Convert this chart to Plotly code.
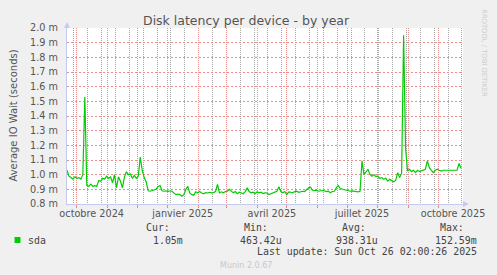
import pandas as pd
import plotly.graph_objects as go

# ---- data (ms), one value every 2 days, starting 2024-09-21 ----
start_date = "2024-09-21 02:00"
end_date = "2025-10-26 02:00"
sda_ms = [
    1.03, 0.99, 0.98, 0.97, 0.985, 0.975, 0.98, 0.97, 1.0, 1.53,
    0.925, 0.92, 0.935, 0.92, 0.925, 0.92, 0.96, 0.955, 0.975, 0.97,
    0.99, 0.975, 0.985, 0.945, 1.0, 0.91, 0.985, 0.955, 0.91, 0.985,
    1.02, 1.0, 1.005, 0.975, 0.995, 0.975, 0.99, 1.12, 1.03, 0.98,
    0.95, 0.89, 0.887, 0.89, 0.895, 0.9, 0.92, 0.926, 0.89, 0.887,
    0.89, 0.885, 0.89, 0.887, 0.876, 0.864, 0.868, 0.864, 0.853, 0.864,
    0.9, 0.92, 0.876, 0.864, 0.86, 0.883, 0.876, 0.885, 0.875, 0.87,
    0.878, 0.875, 0.88, 0.876, 0.878, 0.885, 0.933, 0.876, 0.883, 0.876,
    0.885, 0.887, 0.9, 0.89, 0.876, 0.885, 0.87, 0.88, 0.876, 0.87,
    0.885, 0.91, 0.885, 0.876, 0.88, 0.87, 0.883, 0.876, 0.88, 0.871,
    0.876, 0.875, 0.864, 0.87, 0.876, 0.88, 0.887, 0.917, 0.885, 0.876,
    0.885, 0.864, 0.883, 0.88, 0.876, 0.885, 0.887, 0.88, 0.885, 0.887,
    0.885, 0.9, 0.91, 0.915, 0.894, 0.892, 0.894, 0.887, 0.89, 0.892,
    0.89, 0.885, 0.887, 0.876, 0.885, 0.887, 0.91, 0.926, 0.905, 0.9,
    0.899, 0.894, 0.892, 0.887, 0.89, 0.887, 0.885, 0.883, 0.887, 1.094,
    1.0, 1.02, 1.037, 1.002, 0.99, 1.0, 0.987, 0.991, 0.975, 0.979,
    0.968, 0.975, 0.956, 0.968, 0.961, 0.952, 0.961, 1.014, 0.98, 1.01,
    1.95, 1.18, 1.025, 1.037, 1.021, 1.03, 1.014, 1.03, 1.021, 1.025,
    1.03, 1.037, 1.094, 1.048, 1.03, 1.014, 1.03, 1.037, 1.03, 1.025,
    1.03, 1.03, 1.03, 1.03, 1.03, 1.03, 1.025, 1.03, 1.076, 1.044,
]
dates = pd.date_range(start=start_date, periods=len(sda_ms), freq="2D")

y_ticks = [0.8, 0.9, 1.0, 1.1, 1.2, 1.3, 1.4, 1.5, 1.6, 1.7, 1.8, 1.9, 2.0]
y_tick_text = [f"{v:.1f} m" for v in y_ticks]
x_label_pos = ["2024-10-16", "2025-01-16", "2025-04-16", "2025-07-16", "2025-10-16"]
x_label_text = ["octobre 2024", "janvier 2025", "avril 2025", "juillet 2025", "octobre 2025"]

title = "Disk latency per device - by year"
y_title = "Average IO Wait (seconds)"
series_name = "sda"
stat_heads = ["Cur:", "Min:", "Avg:", "Max:"]
stat_vals = ["1.05m", "463.42u", "938.31u", "152.59m"]
last_update = "Last update: Sun Oct 26 02:00:26 2025"
footer = "Munin 2.0.67"
side_text = "RRDTOOL / TOBI OETIKER"

# ---- layout geometry ----
WIDTH, HEIGHT = 497, 275
L, R, T, B = 67, 467, 28, 204
PW, PH = R - L, B - T


def px(x):
    return (x - L) / PW


def py(y):
    return (B - y) / PH


GREEN = "#00cc00"
MAJOR = "rgb(232,140,140)"
MINOR = "rgb(165,165,165)"
AXIS = "#c4caf0"
TXT = "#555555"
DASH = "1px,1px"
HDASH = "2px,2px"

fig = go.Figure()
fig.add_trace(go.Scatter(x=dates, y=sda_ms, mode="lines",
                         line=dict(color=GREEN, width=1.2),
                         name=series_name, showlegend=False, hoverinfo="skip"))

fig.update_layout(
    width=WIDTH, height=HEIGHT,
    margin=dict(l=L, r=WIDTH - R, t=T, b=HEIGHT - B, pad=0),
    paper_bgcolor="#f0f0f0", plot_bgcolor="#ffffff",
    showlegend=False,
    font=dict(family="DejaVu Sans", size=10, color=TXT),
    xaxis=dict(
        type="date", range=[start_date, end_date],
        showgrid=True, gridcolor=MAJOR, griddash=DASH, gridwidth=1,
        dtick="M1", tick0="2024-10-01",
        showticklabels=False, ticks="outside", ticklen=3, tickcolor=MAJOR,
        minor=dict(dtick=14 * 86400000, tick0="2024-09-28",
                   showgrid=True, gridcolor=MINOR, griddash=DASH, gridwidth=1),
        showline=True, linecolor=AXIS, linewidth=1, zeroline=False,
        fixedrange=True,
    ),
    xaxis2=dict(
        type="date", range=[start_date, end_date], overlaying="x",
        anchor="y", side="bottom",
        tickmode="array", tickvals=x_label_pos, ticktext=x_label_text,
        showgrid=False, ticks="", showline=False, zeroline=False,
        tickfont=dict(family="DejaVu Sans", size=9.7, color=TXT),
        ticklabelstandoff=2,
    ),
    yaxis=dict(
        range=[0.8, 2.0], tickmode="array", tickvals=y_ticks, ticktext=y_tick_text,
        showgrid=True, gridcolor=MAJOR, griddash=HDASH, gridwidth=1,
        showline=True, linecolor=AXIS, linewidth=1, zeroline=False,
        ticks="", ticklabelstandoff=6,
        tickfont=dict(family="DejaVu Sans", size=9.7, color=TXT),
    ),
)
# invisible helper so the label axis is rendered
fig.add_trace(go.Scatter(x=[dates[0]], y=[None], xaxis="x2", yaxis="y",
                         mode="lines", showlegend=False, hoverinfo="skip"))

shapes = [
    # axis arrows
    dict(type="path", xref="paper", yref="paper",
         path=f"M {px(L-3)} {py(T)} L {px(L+3)} {py(T)} L {px(L)} {py(T-6)} Z",
         fillcolor=AXIS, line=dict(width=0)),
    dict(type="path", xref="paper", yref="paper",
         path=f"M {px(R)} {py(B-3)} L {px(R)} {py(B+3)} L {px(R+6)} {py(B)} Z",
         fillcolor=AXIS, line=dict(width=0)),
    # legend swatch
    dict(type="rect", xref="paper", yref="paper",
         x0=px(14), x1=px(20), y0=py(243), y1=py(237),
         fillcolor=GREEN, line=dict(width=0)),
]
fig.update_layout(shapes=shapes)

MONO = dict(family="DejaVu Sans Mono", size=9.9, color="#444444")
ann = []


def text(x, y, s, font, xanchor="left", angle=0):
    ann.append(dict(x=px(x), y=py(y), xref="paper", yref="paper", text=s,
                    showarrow=False, xanchor=xanchor, yanchor="middle",
                    textangle=angle, font=font))


text(248, 20, title, dict(family="DejaVu Sans", size=12.5, color=TXT), "center")
text(12, 116, y_title, dict(family="DejaVu Sans", size=10, color=TXT), "center", -90)
text(488, 53, side_text, dict(family="DejaVu Sans", size=6.8, color="#cccccc"), "center", 90)
text(26, 240, series_name, MONO, "left")
for head, xr in zip(stat_heads, [173, 272, 371, 470]):
    text(xr, 228, head, MONO, "right")
for val, xr in zip(stat_vals, [186, 286, 383, 483]):
    text(xr, 240, val, MONO, "right")
text(483, 251, last_update, MONO, "right")
text(248, 265, footer, dict(family="DejaVu Sans", size=8, color="#c8c8c8"), "center")
fig.update_layout(annotations=ann)

fig.write_html("out.html")
